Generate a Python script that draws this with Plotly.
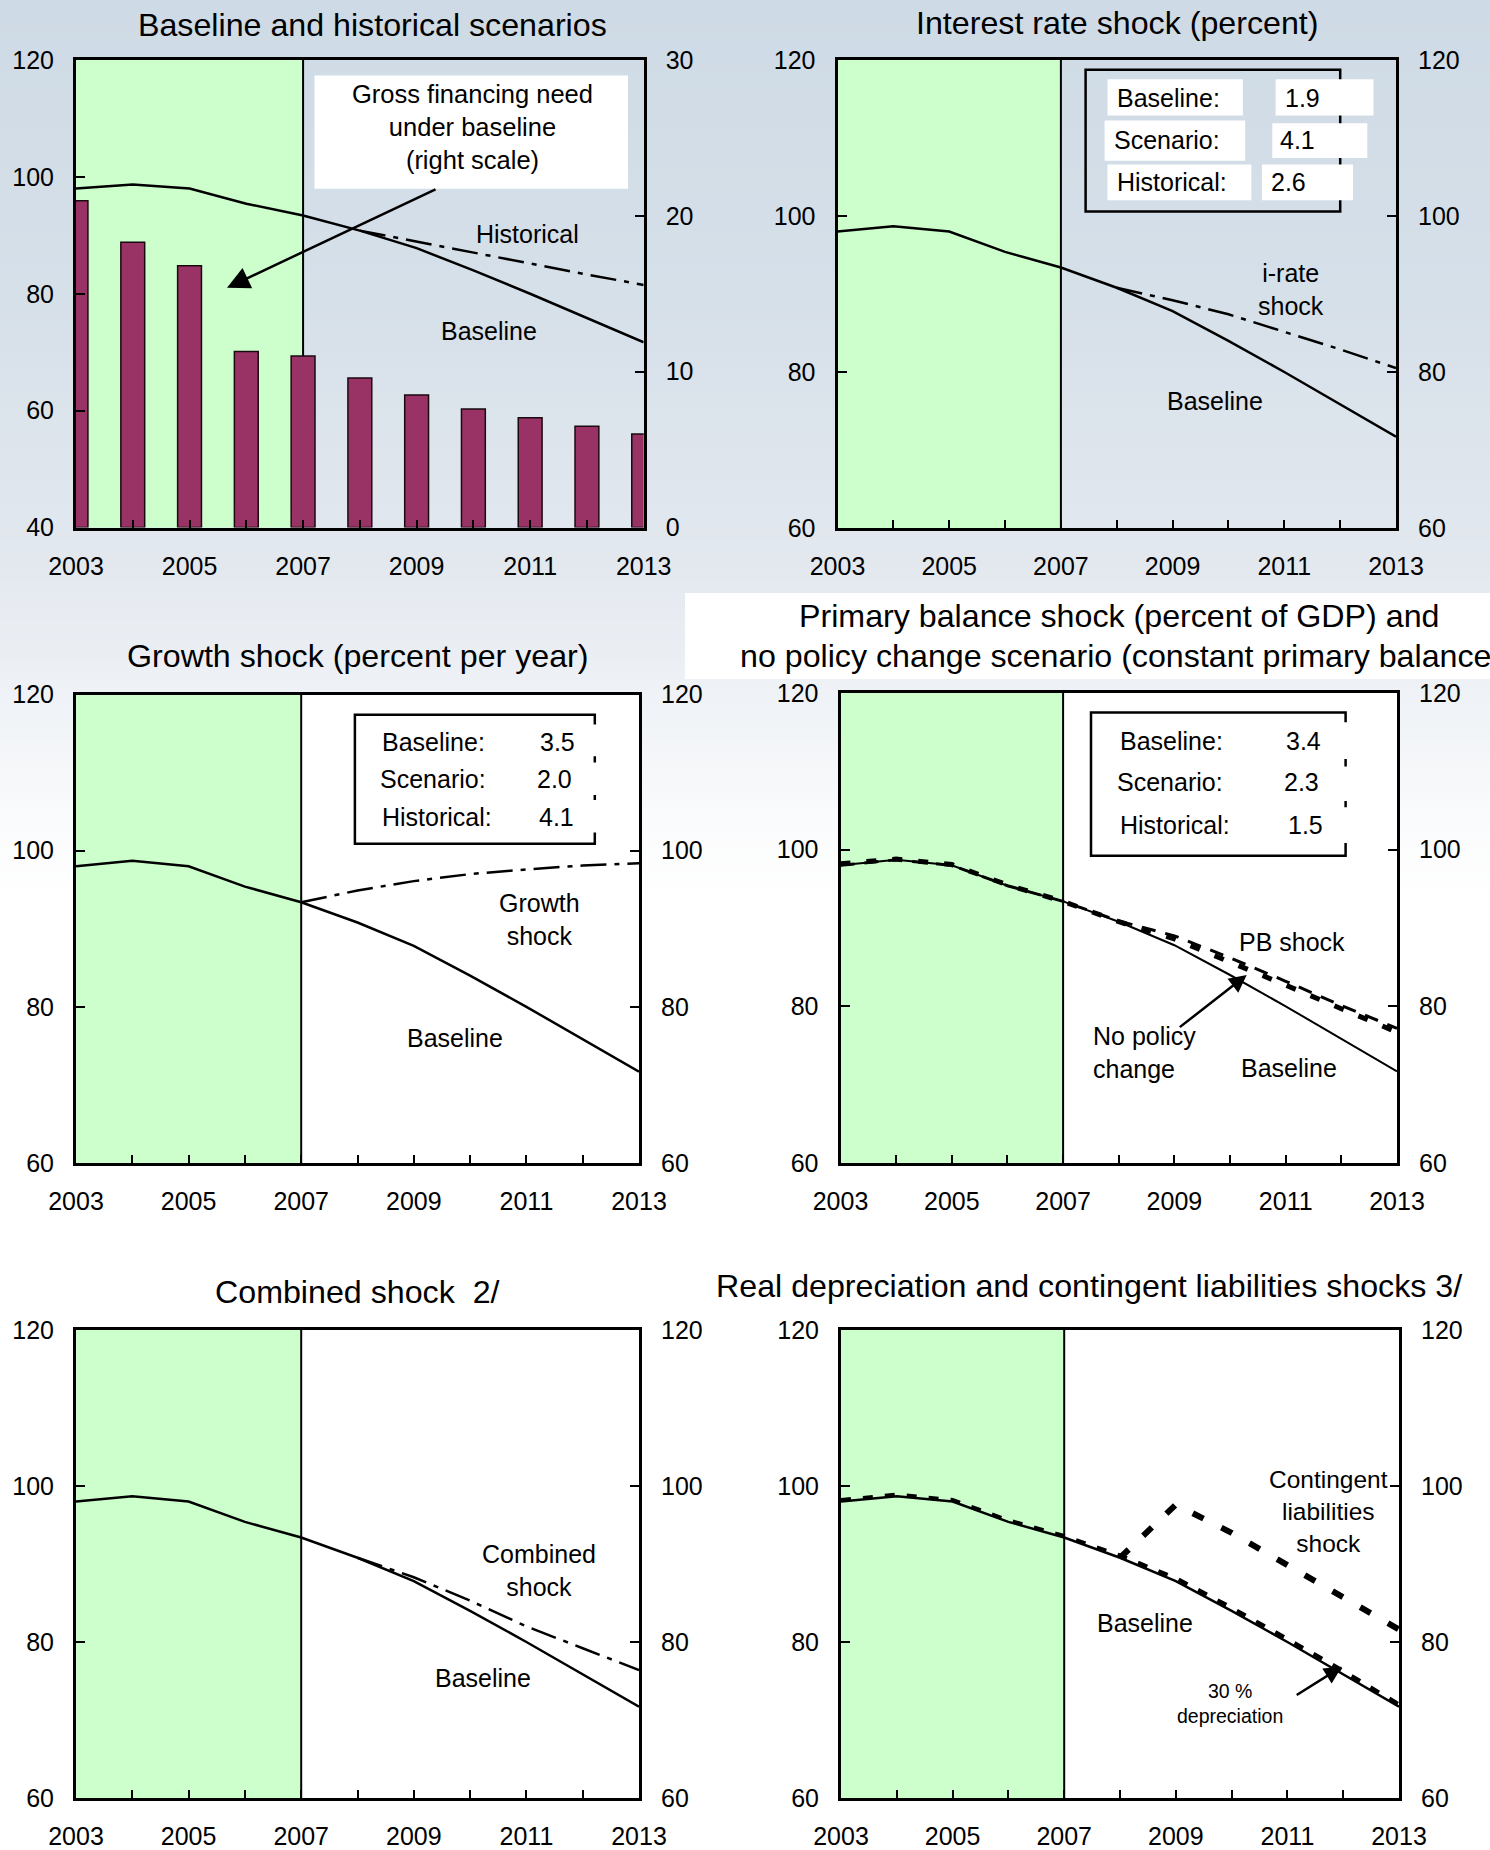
import plotly.graph_objects as go

# ---------------- DATA ----------------
years = [2003, 2004, 2005, 2006, 2007, 2008, 2009, 2010, 2011, 2012, 2013]
baseline = [98.0, 98.7, 98.0, 95.4, 93.4, 90.8, 87.8, 84.0, 80.0, 75.9, 71.7]
gross_financing_need = [20.96, 18.3, 16.8, 11.3, 11.0, 9.6, 8.5, 7.6, 7.05, 6.5, 6.0]

proj_years = [2008, 2009, 2010, 2011, 2012, 2013]
historical = [90.8, 88.9, 87.0, 85.2, 83.3, 81.5]
irate_shock = [90.8, 89.2, 87.4, 85.2, 82.9, 80.5]
combined_shock = [90.8, 88.3, 85.3, 82.0, 79.2, 76.4]
contingent_shock = [90.8, 97.6, 94.0, 89.9, 85.7, 81.6]

growth_years = [2007, 2008, 2009, 2010, 2011, 2012, 2013]
growth_shock = [93.4, 94.9, 96.1, 97.0, 97.6, 98.1, 98.4]

pb_shock = [98.0, 98.7, 98.0, 95.4, 93.4, 90.9, 89.0, 86.2, 83.2, 80.1, 77.2]
no_policy_change = [98.2, 98.8, 98.1, 95.5, 93.4, 90.8, 88.6, 85.7, 82.7, 79.7, 76.7]
depreciation_30 = [98.2, 98.9, 98.2, 95.6, 93.6, 91.1, 88.2, 84.4, 80.4, 76.3, 72.0]

xtick_years = [2003, 2005, 2007, 2009, 2011, 2013]
debt_ticks_p1 = [40, 60, 80, 100, 120]
gfn_ticks = [0, 10, 20, 30]
debt_ticks = [60, 80, 100, 120]

legend_rows = ["Baseline:", "Scenario:", "Historical:"]
irate_values = ["1.9", "4.1", "2.6"]
growth_values = ["3.5", "2.0", "4.1"]
pb_values = ["3.4", "2.3", "1.5"]

titles = [
    "Baseline and historical scenarios",
    "Interest rate shock (percent)",
    "Growth shock (percent per year)",
    "Primary balance shock (percent of GDP) and",
    "no policy change scenario (constant primary balance",
    "Combined shock  2/",
    "Real depreciation and contingent liabilities shocks 3/",
]

# ---------------- LAYOUT HELPERS ----------------
W, H = 1490, 1850
FONT = "Liberation Sans, Arial, Helvetica, sans-serif"
TICK = 25


def px(X):
    return X / W


def py(Y):
    return 1 - Y / H


# panel plot areas in pixels: (left, top, right, bottom)
panels = [
    (76, 60, 643.7, 527.5),
    (837.5, 60, 1396, 528),
    (76, 694.5, 639, 1163),
    (840.5, 693, 1397, 1163),
    (76, 1330, 639, 1798),
    (841, 1330, 1399, 1798),
]

fig = go.Figure()
shapes = []
annotations = []

# background gradient
stops = [(0, (206, 218, 229)), (300, (214, 224, 233)), (560, (227, 232, 239)),
         (700, (239, 242, 246)), (820, (250, 251, 252)), (900, (255, 255, 255))]


def grad(Y):
    for (y0, c0), (y1, c1) in zip(stops[:-1], stops[1:]):
        if y0 <= Y <= y1:
            t = (Y - y0) / (y1 - y0)
            return tuple(round(a + (b - a) * t) for a, b in zip(c0, c1))
    return stops[-1][1]


band = 10
for Y in range(0, 900, band):
    c = grad(Y + band / 2)
    shapes.append(dict(type="rect", xref="paper", yref="paper", x0=0, x1=1,
                       y0=py(Y + band + 1), y1=py(Y), line=dict(width=0),
                       fillcolor="rgb(%d,%d,%d)" % c, layer="below"))

# white plot backgrounds for lower four panels
for i in range(2, 6):
    L, T, R, B = panels[i]
    shapes.append(dict(type="rect", xref="paper", yref="paper", x0=px(L), x1=px(R),
                       y0=py(B), y1=py(T), line=dict(width=0), fillcolor="white", layer="below"))

# title box of panel 4
shapes.append(dict(type="rect", xref="paper", yref="paper", x0=px(685), x1=1,
                   y0=py(679), y1=py(593), line=dict(width=0), fillcolor="white", layer="below"))

# green history shading + 2007 divider
for i in range(6):
    xr = "x" if i == 0 else f"x{i+1}"
    yd = "y domain" if i == 0 else f"y{i+1} domain"
    shapes.append(dict(type="rect", xref=xr, yref=yd, x0=years[0], x1=years[4], y0=0, y1=1,
                       line=dict(width=0), fillcolor="#ccffcc", layer="below"))
    shapes.append(dict(type="line", xref=xr, yref=yd, x0=years[4], x1=years[4], y0=0, y1=1,
                       line=dict(width=2, color="black"), layer="below"))


def axname(kind, n):
    return kind if n == 1 else f"{kind}{n}"


layout_axes = {}
for i, (L, T, R, B) in enumerate(panels):
    n = i + 1
    layout_axes[f"xaxis{n}"] = dict(
        domain=[px(L), px(R)], anchor=axname("y", n), range=[2003, 2013],
        tickvals=xtick_years, ticks="inside", ticklen=8, tickwidth=2, tickcolor="black",
        minor=dict(tickvals=years, ticks="inside", ticklen=8, tickwidth=2, tickcolor="black"),
        showline=True, linewidth=3, linecolor="black", mirror=True,
        showgrid=False, zeroline=False, ticklabelstandoff=14, automargin=False,
        tickfont=dict(size=TICK, color="black", family=FONT), fixedrange=True)
    left_range = [40, 120] if i == 0 else [60, 120]
    left_ticks = debt_ticks_p1 if i == 0 else debt_ticks
    layout_axes[f"yaxis{n}"] = dict(
        domain=[py(B), py(T)], anchor=axname("x", n), range=left_range, tickvals=left_ticks,
        ticks="inside", ticklen=9, tickwidth=2, tickcolor="black",
        showline=True, linewidth=3, linecolor="black", mirror=True,
        showgrid=False, zeroline=False, ticklabelstandoff=14, automargin=False,
        tickfont=dict(size=TICK, color="black", family=FONT), fixedrange=True)
    right_range = [0, 30] if i == 0 else [60, 120]
    right_ticks = gfn_ticks if i == 0 else debt_ticks
    layout_axes[f"yaxis{n+6}"] = dict(
        domain=[py(B), py(T)], anchor=axname("x", n), overlaying=axname("y", n), side="right",
        range=right_range, tickvals=right_ticks,
        ticks="inside", ticklen=9, tickwidth=2, tickcolor="black",
        showline=True, linewidth=3, linecolor="black",
        showgrid=False, zeroline=False, ticklabelstandoff=14, automargin=False,
        tickfont=dict(size=TICK, color="black", family=FONT), fixedrange=True)

layout_axes["xaxis"] = layout_axes.pop("xaxis1")
layout_axes["yaxis"] = layout_axes.pop("yaxis1")

DASHDOT = "26px,8px,5px,8px"


def line_trace(x, y, n, dash="solid", width=2.5):
    return go.Scatter(x=x, y=y, xaxis=axname("x", n), yaxis=axname("y", n), mode="lines",
                      line=dict(color="black", width=width, dash=dash),
                      hoverinfo="skip", showlegend=False)


# Panel 1: bars on right scale, lines on left scale
fig.add_trace(go.Bar(x=years, y=gross_financing_need, xaxis="x", yaxis="y7", width=0.42,
                     marker=dict(color="#993366", line=dict(color="#1a0a10", width=1.5)),
                     hoverinfo="skip", showlegend=False))
fig.add_trace(line_trace(years, baseline, 1))
fig.add_trace(line_trace(proj_years, historical, 1, DASHDOT))

# Panel 2
fig.add_trace(line_trace(years, baseline, 2))
fig.add_trace(line_trace(proj_years, irate_shock, 2, DASHDOT))
# Panel 3
fig.add_trace(line_trace(years, baseline, 3))
fig.add_trace(line_trace(growth_years, growth_shock, 3, DASHDOT))
# Panel 4
fig.add_trace(line_trace(years, baseline, 4, width=2))
fig.add_trace(line_trace(years, pb_shock, 4, "14px,10px", 3))
fig.add_trace(line_trace(years, no_policy_change, 4, "10px,16px", 5))
# Panel 5
fig.add_trace(line_trace(years, baseline, 5))
fig.add_trace(line_trace(proj_years, combined_shock, 5, DASHDOT))
# Panel 6
fig.add_trace(line_trace(years, baseline, 6))
fig.add_trace(line_trace(years, depreciation_30, 6, "10px,12px", 4))
fig.add_trace(line_trace(proj_years, contingent_shock, 6, "12px,20px", 6))

# invisible companions for right-hand axes 2..6
for n in range(2, 7):
    fig.add_trace(go.Scatter(x=years, y=baseline, xaxis=axname("x", n), yaxis=f"y{n+6}",
                             mode="lines", opacity=0, hoverinfo="skip", showlegend=False))


def ann(text, X, Y, size=25, xanchor="center", align="center", yanchor="middle"):
    annotations.append(dict(text=text, x=px(X), y=py(Y), xref="paper", yref="paper",
                            showarrow=False, xanchor=xanchor, yanchor=yanchor, align=align,
                            font=dict(size=size, color="black", family=FONT)))


def arrow(hx, hy, tx, ty, size=1.6, width=2.5):
    annotations.append(dict(text="", x=px(hx), y=py(hy), xref="paper", yref="paper",
                            showarrow=True, ax=tx - hx, ay=ty - hy, axref="pixel", ayref="pixel",
                            arrowhead=2, arrowsize=size, arrowwidth=width, arrowcolor="black",
                            standoff=0, startstandoff=0))


def rect(x0, y0, x1, y1, fill="white", lw=0, layer="above"):
    shapes.append(dict(type="rect", xref="paper", yref="paper", x0=px(x0), x1=px(x1),
                       y0=py(y1), y1=py(y0), fillcolor=fill,
                       line=dict(width=lw, color="black"), layer=layer))


# titles
TS = 32.2
ann(titles[0], 372, 25, TS)
ann(titles[1], 1117.5, 23, TS)
ann(titles[2], 358, 656, TS)
ann(titles[3], 1118.5, 615.5, TS)
ann(titles[4], 738, 656, TS, xanchor="left")
ann(titles[5], 357.5, 1292, TS)
ann(titles[6], 1089, 1286, TS)

# Panel 1 annotation box + arrow
rect(314.5, 75.4, 628, 188.7, layer="below")
ann("Gross financing need<br>under baseline<br>(right scale)", 472, 127, 25.5)
arrow(227, 287.8, 437, 188.7, size=1.8, width=2.5)
ann("Historical", 527, 234, 25)
ann("Baseline", 489.5, 331, 25)

# legend boxes
def legend_box(box, rows, values):
    rect(*box, fill="rgba(0,0,0,0)", lw=2.5)
    for (lab_rect, val_rect, lab_x, val_x, ty), lab, val in zip(rows, legend_rows, values):
        rect(*lab_rect)
        rect(*val_rect)
        ann(lab, lab_x, ty, 25, xanchor="left")
        ann(val, val_x, ty, 25, xanchor="left")


legend_box((1085.6, 69.7, 1340.2, 211.6), [
    ((1107.5, 79.2, 1242.9, 115.6), (1275.6, 79.2, 1373.5, 115.6), 1114.6, 1283.2, 98),
    ((1104.6, 120.6, 1245.2, 160.7), (1272.3, 123.2, 1367.3, 158), 1111.7, 1278, 139.5),
    ((1107.5, 164.6, 1251.4, 200.2), (1261.9, 164.6, 1353, 200.2), 1114.6, 1268.5, 182),
], irate_values)
ann("i-rate<br>shock", 1291, 290, 25)
ann("Baseline", 1215, 401, 25)

legend_box((354.9, 714.7, 594.8, 843.7), [
    ((372, 724.5, 499.8, 756.3), (531, 724.5, 622.3, 756.3), 380, 538.2, 742),
    ((370.5, 761.2, 502.6, 797.6), (527.3, 762.4, 617.6, 795), 377.7, 535.4, 779),
    ((372, 800, 507.4, 832.6), (531, 800, 617.6, 832.6), 380, 536.8, 817),
], growth_values)
ann("Growth<br>shock", 539.5, 919.5, 25)
ann("Baseline", 454.5, 1038, 25)

legend_box((1091, 712.6, 1345.6, 855.7), [
    ((1109.4, 722.3, 1245, 758.9), (1276.7, 722.3, 1375.2, 758.9), 1117.6, 1284.4, 741),
    ((1107.3, 763, 1248.7, 804.3), (1275.7, 766.4, 1371.1, 801), 1115, 1281.8, 782),
    ((1110.4, 807.3, 1254.3, 843), (1277.8, 807.3, 1371.1, 843), 1117.6, 1286, 825),
], pb_values)
ann("PB shock", 1292, 942, 25)
ann("No policy<br>change", 1090.7, 1052, 25, xanchor="left", align="left")
ann("Baseline", 1288.7, 1068, 25)
arrow(1246.7, 975, 1178.3, 1028.3, size=1.4, width=2.5)

# Panel 5
ann("Combined<br>shock", 539, 1570, 25)
ann("Baseline", 483.4, 1678, 25)

# Panel 6
ann("Contingent<br>liabilities<br>shock", 1328.8, 1511.7, 24.5)
ann("Baseline", 1145, 1622.7, 25)
ann("30 %<br>depreciation", 1230, 1703, 19.5)
arrow(1341.8, 1666.7, 1295.2, 1696, size=1.4, width=2.5)

fig.update_layout(
    width=W, height=H, autosize=False,
    margin=dict(l=0, r=0, t=0, b=0, pad=0, autoexpand=False),
    paper_bgcolor="white", plot_bgcolor="rgba(0,0,0,0)",
    font=dict(family=FONT, color="black"),
    shapes=shapes, annotations=annotations, showlegend=False, barmode="overlay",
    **layout_axes,
)

fig.write_html(
    "out.html",
    config={"displayModeBar": False, "staticPlot": False},
    post_script="document.body.style.margin='0';document.body.style.padding='0';"
                "document.documentElement.style.overflow='hidden';",
)
